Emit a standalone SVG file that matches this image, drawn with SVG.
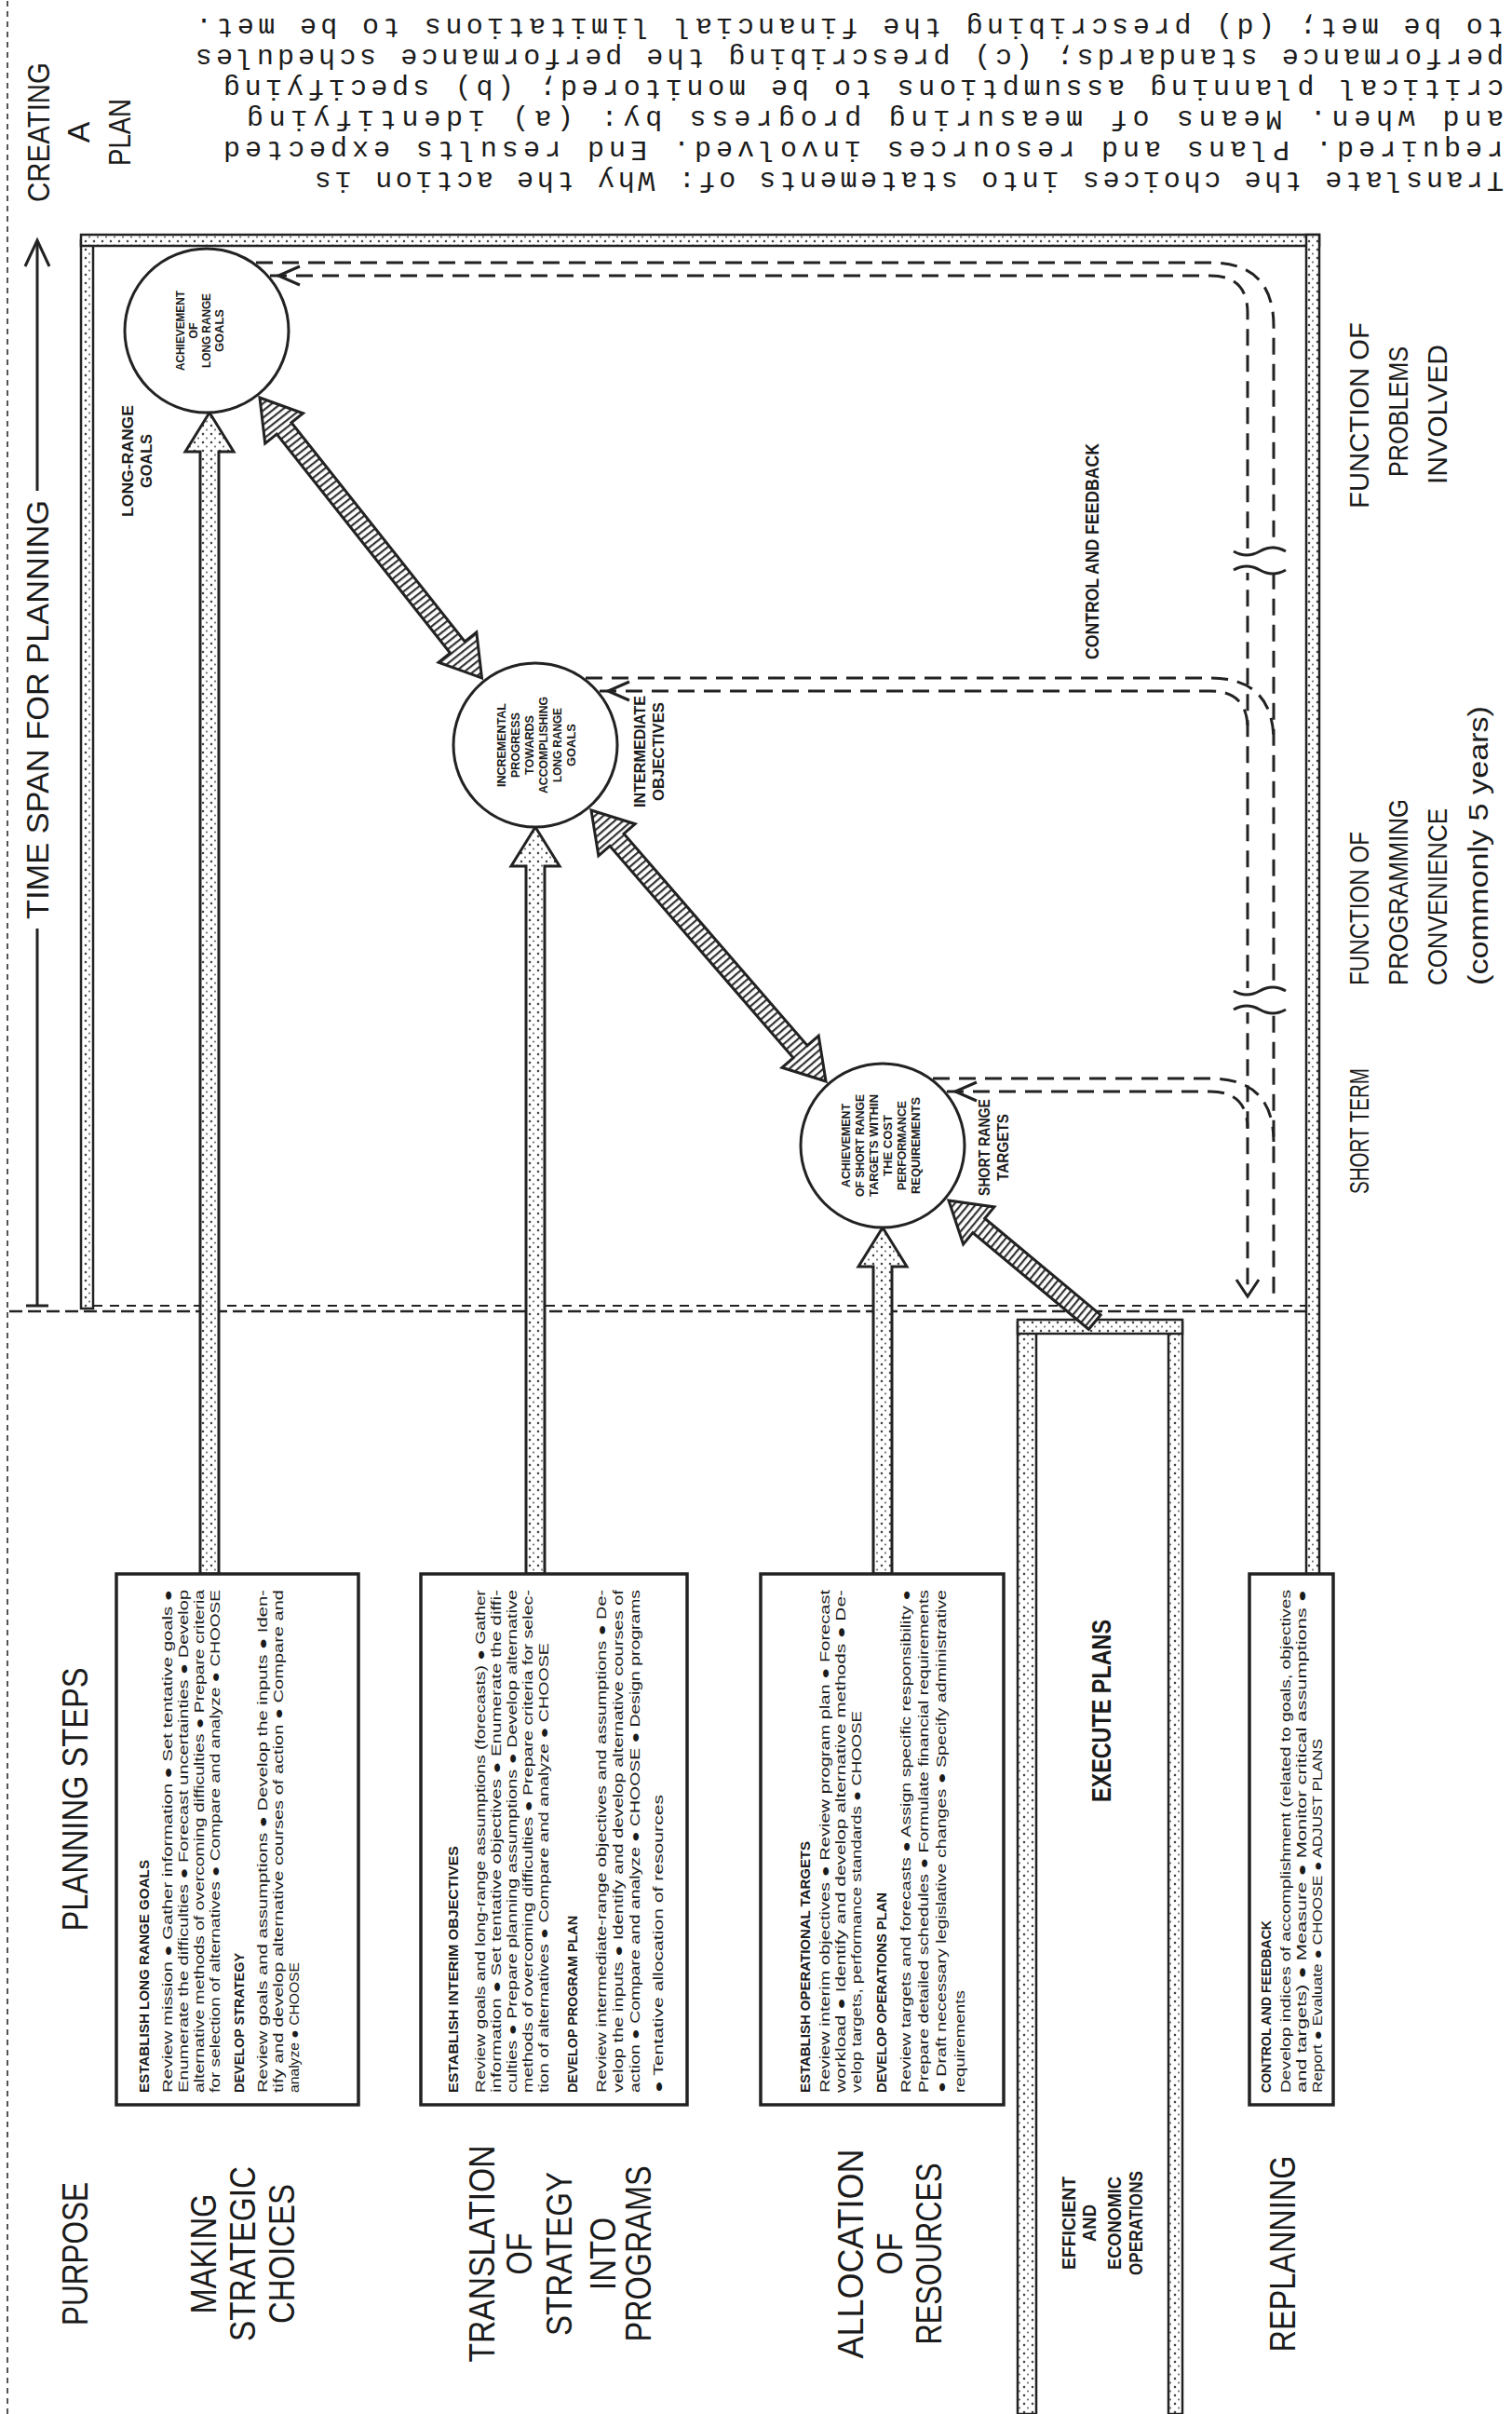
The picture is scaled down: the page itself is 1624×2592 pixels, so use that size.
<svg xmlns="http://www.w3.org/2000/svg" width="1624" height="2592" viewBox="0 0 1624 2592">
<defs>
<pattern id="stip" width="9" height="9" patternUnits="userSpaceOnUse"><rect width="9" height="9" fill="#fff"/><circle cx="2" cy="2" r="1.3" fill="#444"/><circle cx="6.5" cy="6" r="1.1" fill="#666"/></pattern>
<pattern id="hatch" width="6" height="6" patternUnits="userSpaceOnUse"><rect width="6" height="6" fill="#fff"/><rect width="2.2" height="6" fill="#333"/></pattern>
</defs>
<style>
text{font-family:'Liberation Sans Narrow','Liberation Sans',Arial,sans-serif;fill:#1b1b1b}
.h{font-size:38px;text-anchor:middle}
.ts{font-size:34px;text-anchor:middle}
.bl{font-size:30px}
.bx{font-size:14px}
.bxt{font-size:14px;font-weight:bold}
.ct{font-size:12.5px;font-weight:bold;text-anchor:middle}
.sm{font-size:17px;font-weight:bold;text-anchor:middle}
.ef{font-size:20px;font-weight:bold;text-anchor:middle}
.para{font-family:'Liberation Mono',monospace;font-size:30px}
.band{fill:url(#stip);stroke:#222;stroke-width:2.5}
.arw{fill:url(#stip);stroke:#222;stroke-width:3}
.dg{fill:url(#hatch);stroke:#222;stroke-width:3}
.box{fill:#fff;stroke:#222;stroke-width:3.5}
.cir{fill:#fff;stroke:#222;stroke-width:3}
.dash{fill:none;stroke:#222;stroke-width:3;stroke-dasharray:18 10}
.ln{fill:none;stroke:#222;stroke-width:3}
</style>
<rect width="1624" height="2592" fill="#fff"/>
<g transform="translate(0,2592) rotate(-90)">
<g id="connectors">
<line x1="0" y1="8" x2="2592" y2="8" stroke="#555" stroke-width="2" stroke-dasharray="6 5"/>
<rect class="band" x="1187" y="87" width="1147" height="13"/>
<rect class="band" x="2328" y="87" width="12" height="1330"/>
<rect class="band" x="902" y="1403" width="1438" height="14"/>
<line x1="1184" y1="10" x2="1184" y2="1403" stroke="#222" stroke-width="2.5" stroke-dasharray="14 6"/>
<line x1="1190" y1="100" x2="1190" y2="1403" stroke="#222" stroke-width="2" stroke-dasharray="10 8"/>
<rect class="band" x="0" y="1093" width="1172" height="20"/>
<rect class="band" x="0" y="1255" width="1172" height="15"/>
<rect class="band" x="1160" y="1093" width="15" height="177"/>
<polygon class="arw" points="902,215 2107,215 2107,199 2149,225 2107,251 2107,235 902,235"/>
<polygon class="arw" points="902,565 1662,565 1662,549 1704,575 1662,601 1662,585 902,585"/>
<polygon class="arw" points="902,938 1232,938 1232,922 1274,948 1232,974 1232,958 902,958"/>
<polygon class="dg" transform="translate(2165,279) rotate(141.6)" points="0,0 42,-26 42,-10 342,-10 342,-26 384,0 342,26 342,10 42,10 42,26"/>
<polygon class="dg" transform="translate(1722,635) rotate(139.1)" points="0,0 42,-26 42,-10 343,-10 343,-26 385,0 343,26 343,10 42,10 42,26"/>
<polygon class="dg" transform="translate(1303,1019) rotate(129.8)" points="0,0 42,-26 42,-10 204,-10 204,10 42,10 42,26"/>
<path class="dash" d="M2296,290 V1300 Q2296,1340 2256,1340 H1200"/>
<path class="dash" d="M2310,275 V1300 Q2310,1368 2242,1368 H1200"/>
<path class="dash" d="M1850,644 V1300 Q1850,1340 1810,1340"/>
<path class="dash" d="M1864,629 V1300 Q1864,1368 1796,1368"/>
<path class="dash" d="M1420,1017 V1300 Q1420,1340 1380,1340"/>
<path class="dash" d="M1434,1002 V1300 Q1434,1368 1366,1368"/>
<polyline class="ln" points="2286,322 2296,299 2306,322"/>
<polyline class="ln" points="1840,676 1850,653 1860,676"/>
<polyline class="ln" points="1410,1049 1420,1026 1430,1049"/>
<polyline class="ln" points="1218,1328 1200,1340 1218,1352"/>
<rect x="1505" y="1325" width="26" height="56" fill="#fff"/>
<path class="ln" d="M1508,1325 q8,14 0,28 q-8,14 0,28 M1528,1325 q-8,14 0,28 q8,14 0,28"/>
<rect x="1977" y="1325" width="26" height="56" fill="#fff"/>
<path class="ln" d="M1980,1325 q8,14 0,28 q-8,14 0,28 M2000,1325 q-8,14 0,28 q8,14 0,28"/>
</g>
<g id="hdr-purpose"><text class="h" x="172" y="94" textLength="154" lengthAdjust="spacingAndGlyphs">PURPOSE</text></g>
<g id="hdr-planning"><text class="h" x="660" y="94" textLength="283" lengthAdjust="spacingAndGlyphs">PLANNING STEPS</text></g>
<g id="hdr-timespan">
<text class="ts" x="1830" y="52" textLength="450" lengthAdjust="spacingAndGlyphs">TIME SPAN FOR PLANNING</text>
<path class="ln" d="M1190,28 V52 M1190,40 H1595 M2065,40 H2332"/>
<polyline class="ln" points="2306,27 2334,40 2306,53"/>
</g>
<g id="hdr-creating">
<text class="ts" x="2450" y="53" textLength="150" lengthAdjust="spacingAndGlyphs">CREATING</text>
<text class="ts" x="2450" y="96">A</text>
<text class="ts" x="2450" y="140" textLength="72" lengthAdjust="spacingAndGlyphs">PLAN</text>
</g>
<g id="row-strategic">
<text class="h" x="172" y="232" textLength="129" lengthAdjust="spacingAndGlyphs">MAKING</text>
<text class="h" x="172" y="274" textLength="188" lengthAdjust="spacingAndGlyphs">STRATEGIC</text>
<text class="h" x="172" y="316" textLength="150" lengthAdjust="spacingAndGlyphs">CHOICES</text>
</g>
<g id="row-translation">
<text class="h" x="172" y="531" textLength="233" lengthAdjust="spacingAndGlyphs">TRANSLATION</text>
<text class="h" x="172" y="571" textLength="45" lengthAdjust="spacingAndGlyphs">OF</text>
<text class="h" x="172" y="614" textLength="176" lengthAdjust="spacingAndGlyphs">STRATEGY</text>
<text class="h" x="172" y="661" textLength="78" lengthAdjust="spacingAndGlyphs">INTO</text>
<text class="h" x="172" y="699" textLength="189" lengthAdjust="spacingAndGlyphs">PROGRAMS</text>
</g>
<g id="row-allocation">
<text class="h" x="172" y="927" textLength="225" lengthAdjust="spacingAndGlyphs">ALLOCATION</text>
<text class="h" x="172" y="969" textLength="45" lengthAdjust="spacingAndGlyphs">OF</text>
<text class="h" x="172" y="1011" textLength="195" lengthAdjust="spacingAndGlyphs">RESOURCES</text>
</g>
<g id="row-efficient">
<text class="ef" x="205" y="1155" textLength="100" lengthAdjust="spacingAndGlyphs">EFFICIENT</text>
<text class="ef" x="205" y="1177" textLength="40" lengthAdjust="spacingAndGlyphs">AND</text>
<text class="ef" x="205" y="1204" textLength="100" lengthAdjust="spacingAndGlyphs">ECONOMIC</text>
<text class="ef" x="205" y="1227" textLength="112" lengthAdjust="spacingAndGlyphs">OPERATIONS</text>
</g>
<g id="row-replanning"><text class="h" x="172" y="1391" textLength="211" lengthAdjust="spacingAndGlyphs">REPLANNING</text></g>
<g id="box-goals">
<rect class="box" x="332" y="125" width="570" height="260"/>
<text class="bxt" x="345" y="160" textLength="250" lengthAdjust="spacingAndGlyphs">ESTABLISH LONG RANGE GOALS</text>
<text class="bx" x="345" y="185" textLength="540" lengthAdjust="spacingAndGlyphs">Review mission ● Gather information ● Set tentative goals ●</text>
<text class="bx" x="345" y="202" textLength="540" lengthAdjust="spacingAndGlyphs">Enumerate the difficulties ● Forecast uncertainties ● Develop</text>
<text class="bx" x="345" y="219" textLength="540" lengthAdjust="spacingAndGlyphs">alternative methods of overcoming difficulties ● Prepare criteria</text>
<text class="bx" x="345" y="236" textLength="540" lengthAdjust="spacingAndGlyphs">for selection of alternatives ● Compare and analyze ● CHOOSE</text>
<text class="bxt" x="345" y="262" textLength="150" lengthAdjust="spacingAndGlyphs">DEVELOP STRATEGY</text>
<text class="bx" x="345" y="287" textLength="540" lengthAdjust="spacingAndGlyphs">Review goals and assumptions ● Develop the inputs ● Iden-</text>
<text class="bx" x="345" y="304" textLength="540" lengthAdjust="spacingAndGlyphs">tify and develop alternative courses of action ● Compare and</text>
<text class="bx" x="345" y="321" textLength="140" lengthAdjust="spacingAndGlyphs">analyze ● CHOOSE</text>
</g>
<g id="box-interim">
<rect class="box" x="332" y="452" width="570" height="286"/>
<text class="bxt" x="345" y="492" textLength="265" lengthAdjust="spacingAndGlyphs">ESTABLISH INTERIM OBJECTIVES</text>
<text class="bx" x="345" y="521" textLength="540" lengthAdjust="spacingAndGlyphs">Review goals and long-range assumptions (forecasts) ● Gather</text>
<text class="bx" x="345" y="538" textLength="540" lengthAdjust="spacingAndGlyphs">information ● Set tentative objectives ● Enumerate the diffi-</text>
<text class="bx" x="345" y="555" textLength="540" lengthAdjust="spacingAndGlyphs">culties ● Prepare planning assumptions ● Develop alternative</text>
<text class="bx" x="345" y="572" textLength="540" lengthAdjust="spacingAndGlyphs">methods of overcoming difficulties ● Prepare criteria for selec-</text>
<text class="bx" x="345" y="589" textLength="483" lengthAdjust="spacingAndGlyphs">tion of alternatives ● Compare and analyze ● CHOOSE</text>
<text class="bxt" x="345" y="620" textLength="190" lengthAdjust="spacingAndGlyphs">DEVELOP PROGRAM PLAN</text>
<text class="bx" x="345" y="651" textLength="540" lengthAdjust="spacingAndGlyphs">Review intermediate-range objectives and assumptions ● De-</text>
<text class="bx" x="345" y="669" textLength="540" lengthAdjust="spacingAndGlyphs">velop the inputs ● Identify and develop alternative courses of</text>
<text class="bx" x="345" y="687" textLength="540" lengthAdjust="spacingAndGlyphs">action ● Compare and analyze ● CHOOSE ● Design programs</text>
<text class="bx" x="345" y="712" textLength="320" lengthAdjust="spacingAndGlyphs">● Tentative allocation of resources</text>
</g>
<g id="box-operational">
<rect class="box" x="332" y="817" width="570" height="261"/>
<text class="bxt" x="345" y="870" textLength="270" lengthAdjust="spacingAndGlyphs">ESTABLISH OPERATIONAL TARGETS</text>
<text class="bx" x="345" y="891" textLength="540" lengthAdjust="spacingAndGlyphs">Review interim objectives ● Review program plan ● Forecast</text>
<text class="bx" x="345" y="908" textLength="540" lengthAdjust="spacingAndGlyphs">workload ● Identify and develop alternative methods ● De-</text>
<text class="bx" x="345" y="925" textLength="410" lengthAdjust="spacingAndGlyphs">velop targets, performance standards ● CHOOSE</text>
<text class="bxt" x="345" y="952" textLength="215" lengthAdjust="spacingAndGlyphs">DEVELOP OPERATIONS PLAN</text>
<text class="bx" x="345" y="978" textLength="540" lengthAdjust="spacingAndGlyphs">Review targets and forecasts ● Assign specific responsibility ●</text>
<text class="bx" x="345" y="997" textLength="540" lengthAdjust="spacingAndGlyphs">Prepare detailed schedules ● Formulate financial requirements</text>
<text class="bx" x="345" y="1016" textLength="540" lengthAdjust="spacingAndGlyphs">● Draft necessary legislative changes ● Specify administrative</text>
<text class="bx" x="345" y="1036" textLength="110" lengthAdjust="spacingAndGlyphs">requirements</text>
</g>
<g id="execute"><text class="bl" x="657" y="1193" textLength="196" lengthAdjust="spacingAndGlyphs" style="font-weight:bold">EXECUTE PLANS</text></g>
<g id="box-control">
<rect class="box" x="332" y="1342" width="570" height="90"/>
<text class="bxt" x="345" y="1365" textLength="185" lengthAdjust="spacingAndGlyphs">CONTROL AND FEEDBACK</text>
<text class="bx" x="345" y="1386" textLength="540" lengthAdjust="spacingAndGlyphs">Develop indices of accomplishment (related to goals, objectives</text>
<text class="bx" x="345" y="1403" textLength="540" lengthAdjust="spacingAndGlyphs">and targets) ● Measure ● Monitor critical assumptions ●</text>
<text class="bx" x="345" y="1420" textLength="380" lengthAdjust="spacingAndGlyphs">Report ● Evaluate ● CHOOSE ● ADJUST PLANS</text>
</g>
<g id="circle-long">
<circle class="cir" cx="2237" cy="222" r="88"/>
<text class="ct" x="2237" y="198" textLength="86" lengthAdjust="spacingAndGlyphs">ACHIEVEMENT</text>
<text class="ct" x="2237" y="212">OF</text>
<text class="ct" x="2237" y="226" textLength="80" lengthAdjust="spacingAndGlyphs">LONG RANGE</text>
<text class="ct" x="2237" y="240" textLength="46" lengthAdjust="spacingAndGlyphs">GOALS</text>
</g>
<g id="circle-incremental">
<circle class="cir" cx="1792" cy="575" r="88"/>
<text class="ct" x="1792" y="543" textLength="90" lengthAdjust="spacingAndGlyphs">INCREMENTAL</text>
<text class="ct" x="1792" y="558" textLength="70" lengthAdjust="spacingAndGlyphs">PROGRESS</text>
<text class="ct" x="1792" y="573" textLength="64" lengthAdjust="spacingAndGlyphs">TOWARDS</text>
<text class="ct" x="1792" y="588" textLength="104" lengthAdjust="spacingAndGlyphs">ACCOMPLISHING</text>
<text class="ct" x="1792" y="603" textLength="80" lengthAdjust="spacingAndGlyphs">LONG RANGE</text>
<text class="ct" x="1792" y="618" textLength="46" lengthAdjust="spacingAndGlyphs">GOALS</text>
</g>
<g id="circle-short">
<circle class="cir" cx="1362" cy="948" r="88"/>
<text class="ct" x="1362" y="913" textLength="90" lengthAdjust="spacingAndGlyphs">ACHIEVEMENT</text>
<text class="ct" x="1362" y="928" textLength="110" lengthAdjust="spacingAndGlyphs">OF SHORT RANGE</text>
<text class="ct" x="1362" y="943" textLength="110" lengthAdjust="spacingAndGlyphs">TARGETS WITHIN</text>
<text class="ct" x="1362" y="958" textLength="66" lengthAdjust="spacingAndGlyphs">THE COST</text>
<text class="ct" x="1362" y="973" textLength="96" lengthAdjust="spacingAndGlyphs">PERFORMANCE</text>
<text class="ct" x="1362" y="988" textLength="104" lengthAdjust="spacingAndGlyphs">REQUIREMENTS</text>
</g>
<g id="lbl-longrange">
<text class="sm" x="2097" y="143" textLength="120" lengthAdjust="spacingAndGlyphs">LONG-RANGE</text>
<text class="sm" x="2097" y="163" textLength="58" lengthAdjust="spacingAndGlyphs">GOALS</text>
</g>
<g id="lbl-intermediate">
<text class="sm" x="1785" y="693" textLength="120" lengthAdjust="spacingAndGlyphs">INTERMEDIATE</text>
<text class="sm" x="1785" y="713" textLength="106" lengthAdjust="spacingAndGlyphs">OBJECTIVES</text>
</g>
<g id="lbl-shortrange">
<text class="sm" x="1360" y="1063" textLength="104" lengthAdjust="spacingAndGlyphs">SHORT RANGE</text>
<text class="sm" x="1360" y="1083" textLength="72" lengthAdjust="spacingAndGlyphs">TARGETS</text>
</g>
<g id="lbl-control"><text class="ef" x="2000" y="1180" textLength="232" lengthAdjust="spacingAndGlyphs">CONTROL AND FEEDBACK</text></g>
<g id="lbl-shortterm"><text class="bl" x="1310" y="1470" textLength="135" lengthAdjust="spacingAndGlyphs">SHORT TERM</text></g>
<g id="lbl-programming">
<text class="bl" x="1534" y="1470" textLength="165" lengthAdjust="spacingAndGlyphs">FUNCTION OF</text>
<text class="bl" x="1534" y="1512" textLength="200" lengthAdjust="spacingAndGlyphs">PROGRAMMING</text>
<text class="bl" x="1534" y="1554" textLength="190" lengthAdjust="spacingAndGlyphs">CONVENIENCE</text>
<text class="bl" x="1534" y="1598" textLength="300" lengthAdjust="spacingAndGlyphs">(commonly 5 years)</text>
</g>
<g id="lbl-problems">
<text class="bl" x="2046" y="1470" textLength="200" lengthAdjust="spacingAndGlyphs">FUNCTION OF</text>
<text class="bl" x="2080" y="1512" textLength="140" lengthAdjust="spacingAndGlyphs">PROBLEMS</text>
<text class="bl" x="2072" y="1554" textLength="150" lengthAdjust="spacingAndGlyphs">INVOLVED</text>
</g>
</g>
<g id="paragraph">
<text class="para" transform="translate(1615,185) rotate(180)" textLength="1277" lengthAdjust="spacing">Translate the choices into statements of: Why the action is</text>
<text class="para" transform="translate(1615,152) rotate(180)" textLength="1375" lengthAdjust="spacing">required. Plans and resources involved. End results expected</text>
<text class="para" transform="translate(1615,119) rotate(180)" textLength="1350" lengthAdjust="spacing">and when. Means of measuring progress by: (a) identifying</text>
<text class="para" transform="translate(1615,86) rotate(180)" textLength="1375" lengthAdjust="spacing">critical planning assumptions to be monitored; (b) specifying</text>
<text class="para" transform="translate(1615,53) rotate(180)" textLength="1405" lengthAdjust="spacing">performance standards; (c) prescribing the performance schedules</text>
<text class="para" transform="translate(1615,20) rotate(180)" textLength="1405" lengthAdjust="spacing">to be met; (d) prescribing the financial limitations to be met.</text>
</g>
</svg>
